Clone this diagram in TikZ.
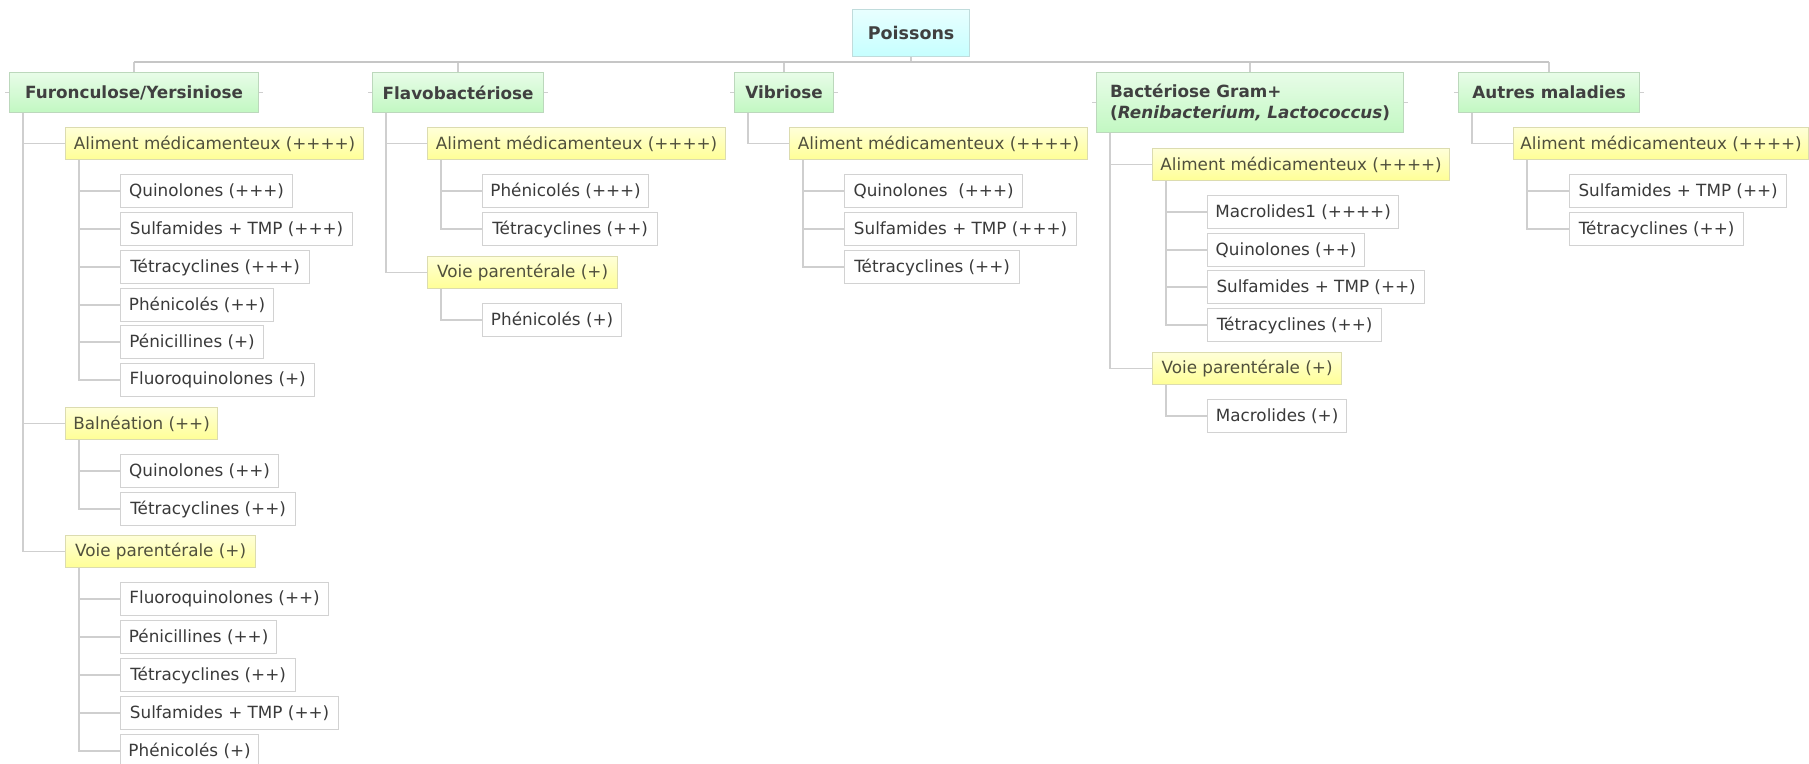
\documentclass[tikz,border=0pt]{standalone}
\usepackage{fontspec}
\setmainfont{DejaVu Sans}
\definecolor{conncol}{HTML}{CFCFCF}
\definecolor{buscol}{HTML}{C6C6C6}
\definecolor{leafdraw}{HTML}{D2D2D2}
\definecolor{yeltop}{HTML}{FFFFD8}
\definecolor{yelbot}{HTML}{FFFF96}
\definecolor{yeldraw}{HTML}{DCDCB0}
\definecolor{grntop}{HTML}{E8FCE8}
\definecolor{grnbot}{HTML}{C2F8C2}
\definecolor{grndraw}{HTML}{BCD8BC}
\definecolor{cyntop}{HTML}{E8FFFF}
\definecolor{cynbot}{HTML}{C6FFFF}
\definecolor{cyndraw}{HTML}{C0DCDC}
\definecolor{headtext}{HTML}{404040}
\definecolor{leaftext}{HTML}{3A3A3A}
\definecolor{yeltext}{HTML}{50503C}
\begin{document}
\begin{tikzpicture}[x=1pt,y=-1pt,
  every node/.style={font=\fontsize{16.8}{20.5}\selectfont, inner sep=0pt},
  box/.style={anchor=north west, line width=1.2pt, align=left},
  rootbox/.style={box, draw=cyndraw, top color=cyntop, bottom color=cynbot,
     font=\fontsize{17.5}{21}\selectfont\bfseries, text=headtext, minimum height=47},
  head/.style={box, draw=grndraw, top color=grntop, bottom color=grnbot,
     font=\fontsize{16.8}{20.5}\selectfont\bfseries, text=headtext, minimum height=40},
  route/.style={box, draw=yeldraw, top color=yeltop, bottom color=yelbot,
     text=yeltext, minimum height=32},
  leaf/.style={box, draw=leafdraw, fill=white, text=leaftext, minimum height=33},
  conn/.style={draw=conncol, line width=1.5pt},
  bus/.style={draw=buscol, line width=2.5pt}
]
\useasboundingbox (0,0) rectangle (1809,763);
\fill[white] (0,0) rectangle (1809,763);
\clip (0,0) rectangle (1809,763);

% root
\node[rootbox, minimum width=117] (root) at (852,9) {Poissons};

% level 1
\node[head, minimum width=249] (furo) at (9,72) {Furonculose/Yersiniose};
\node[head, minimum width=171] (flavo) at (372,72) {Flavobactériose};
\node[head, minimum width=99] (vib) at (734,72) {Vibriose};
\node[head, minimum width=307, minimum height=60] (bact) at (1096,72) {Bactériose Gram+\\(\textit{Renibacterium, Lactococcus})};
\node[head, minimum width=181] (autres) at (1458,72) {Autres maladies};

% level 2
\node[route, minimum width=298] (fA) at (65,127) {Aliment médicamenteux (++++)};
\node[route, minimum width=152] (fB) at (65,407) {Balnéation (++)};
\node[route, minimum width=190] (fV) at (65,535) {Voie parentérale (+)};
\node[route, minimum width=298] (lA) at (427,127) {Aliment médicamenteux (++++)};
\node[route, minimum width=190] (lV) at (427,256) {Voie parentérale (+)};
\node[route, minimum width=298] (vA) at (789,127) {Aliment médicamenteux (++++)};
\node[route, minimum width=297] (bA) at (1152,148) {Aliment médicamenteux (++++)};
\node[route, minimum width=189] (bV) at (1152,352) {Voie parentérale (+)};
\node[route, minimum width=295] (aA) at (1513,127) {Aliment médicamenteux (++++)};

% leaves - Furonculose
\node[leaf, minimum width=172] (fA1) at (120,174) {Quinolones (+++)};
\node[leaf, minimum width=232] (fA2) at (120,212) {Sulfamides + TMP (+++)};
\node[leaf, minimum width=189] (fA3) at (120,250) {Tétracyclines (+++)};
\node[leaf, minimum width=153] (fA4) at (120,288) {Phénicolés (++)};
\node[leaf, minimum width=143] (fA5) at (120,325) {Pénicillines (+)};
\node[leaf, minimum width=194] (fA6) at (120,363) {Fluoroquinolones (+)};
\node[leaf, minimum width=158] (fB1) at (120,454) {Quinolones (++)};
\node[leaf, minimum width=175] (fB2) at (120,492) {Tétracyclines (++)};
\node[leaf, minimum width=208] (fV1) at (120,582) {Fluoroquinolones (++)};
\node[leaf, minimum width=156] (fV2) at (120,620) {Pénicillines (++)};
\node[leaf, minimum width=175] (fV3) at (120,658) {Tétracyclines (++)};
\node[leaf, minimum width=218] (fV4) at (120,696) {Sulfamides + TMP (++)};
\node[leaf, minimum width=138] (fV5) at (120,734) {Phénicolés (+)};
% Flavobacteriose
\node[leaf, minimum width=166] (lA1) at (482,174) {Phénicolés (+++)};
\node[leaf, minimum width=175] (lA2) at (482,212) {Tétracyclines (++)};
\node[leaf, minimum width=139] (lV1) at (482,303) {Phénicolés (+)};
% Vibriose
\node[leaf, minimum width=178] (vA1) at (844,174) {Quinolones~ (+++)};
\node[leaf, minimum width=232] (vA2) at (844,212) {Sulfamides + TMP (+++)};
\node[leaf, minimum width=175] (vA3) at (844,250) {Tétracyclines (++)};
% Bacteriose
\node[leaf, minimum width=191] (bA1) at (1207,195) {Macrolides1 (++++)};
\node[leaf, minimum width=157] (bA2) at (1207,233) {Quinolones (++)};
\node[leaf, minimum width=217] (bA3) at (1207,270) {Sulfamides + TMP (++)};
\node[leaf, minimum width=174] (bA4) at (1207,308) {Tétracyclines (++)};
\node[leaf, minimum width=139] (bV1) at (1207,399) {Macrolides (+)};
% Autres
\node[leaf, minimum width=217] (aA1) at (1569,174) {Sulfamides + TMP (++)};
\node[leaf, minimum width=174] (aA2) at (1569,212) {Tétracyclines (++)};

% bus and drops
\coordinate (bus) at (911,62);
\draw[conn] (root.south) -- (root.south |- bus);
\foreach \h in {furo,flavo,vib,bact,autres}
  \draw[conn] (\h.north) -- (\h.north |- bus);
\draw[bus] (furo.north |- bus) -- (autres.north |- bus);

% side stubs of level-1 boxes
\foreach \h in {furo,flavo,vib,bact,autres}{
  \draw[conn] (\h.west) -- ++(-4,0);
  \draw[conn] (\h.east) -- ++(4,0);
}

% elbow connectors
\foreach \p/\c in {furo/fA,furo/fB,furo/fV,flavo/lA,flavo/lV,vib/vA,bact/bA,bact/bV,autres/aA,
  fA/fA1,fA/fA2,fA/fA3,fA/fA4,fA/fA5,fA/fA6,fB/fB1,fB/fB2,
  fV/fV1,fV/fV2,fV/fV3,fV/fV4,fV/fV5,lA/lA1,lA/lA2,lV/lV1,
  vA/vA1,vA/vA2,vA/vA3,bA/bA1,bA/bA2,bA/bA3,bA/bA4,bV/bV1,aA/aA1,aA/aA2}
  \draw[conn] ([xshift=14pt]\p.south west) |- (\c.west);
\end{tikzpicture}
\end{document}
